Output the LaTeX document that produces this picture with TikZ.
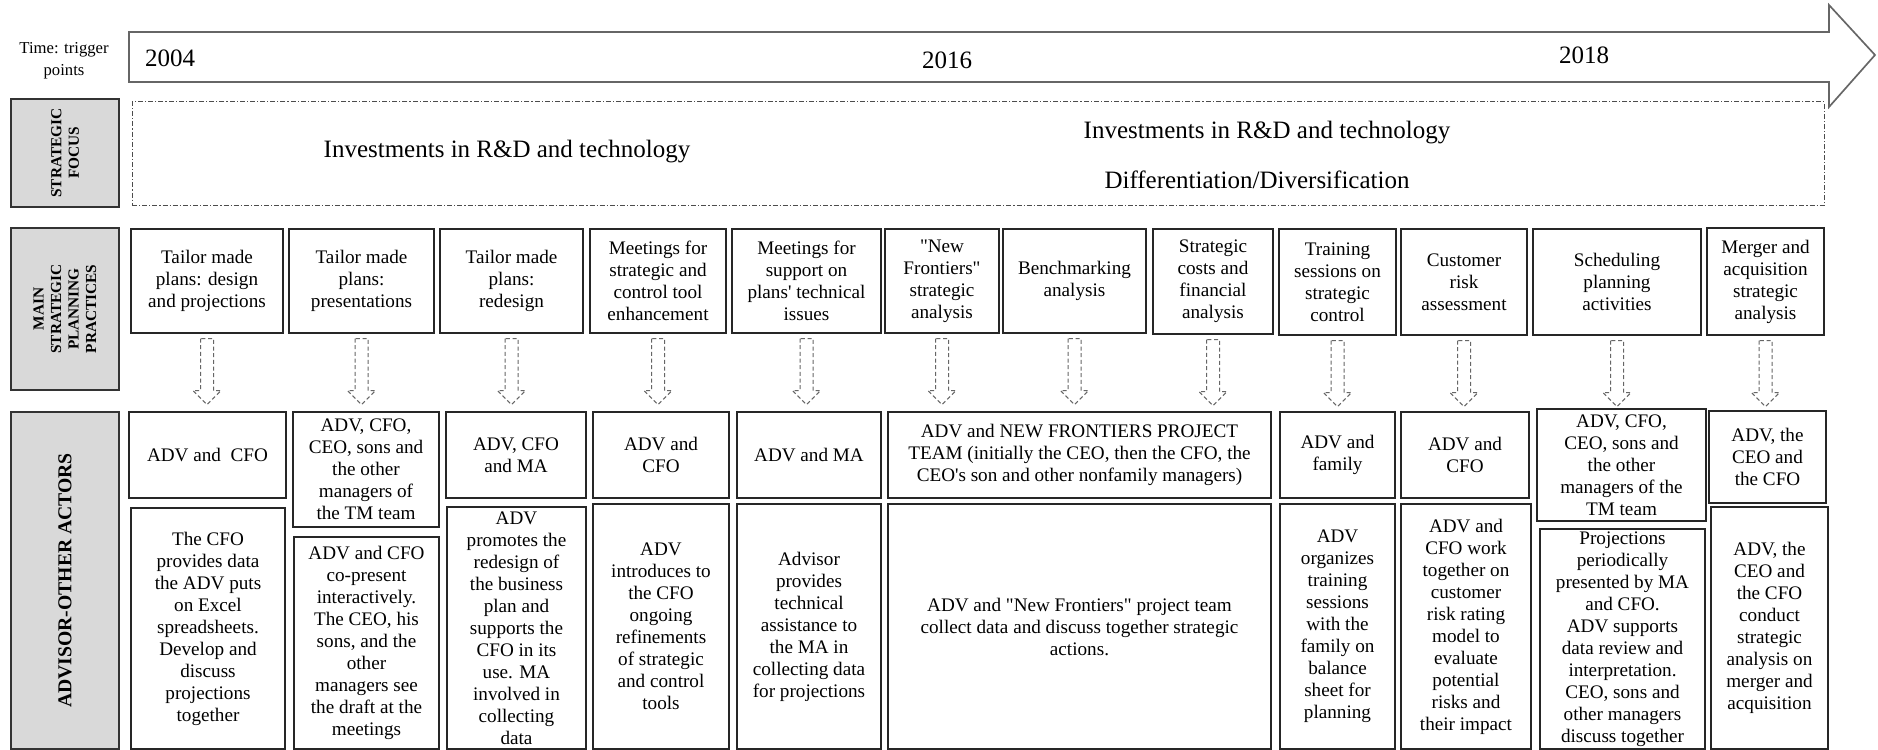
\documentclass[tikz,border=0pt]{standalone}
\usepackage{fontspec}
\setmainfont{Liberation Serif}

\begin{document}
\begin{tikzpicture}[x=0.6pt, y=-0.6pt,
  spanbox/.style n args={4}{at={({(#1+#3)/2},{(#2+#4)/2})},
    minimum width={(#3-#1)*0.6pt}, minimum height={(#4-#2)*0.6pt}},
  cell/.style={draw=black!85, line width=0.7pt, inner sep=0pt, align=center,
    font=\fontsize{11.5}{13.2}\selectfont},
  header/.style={draw=black!80, fill=black!15, line width=0.9pt, inner sep=0pt},
  headtext/.style={rotate=90, align=center, font=\bfseries\fontsize{9.2}{10.5}\selectfont},
  frame/.style={draw=black!70, line width=0.6pt, inner sep=0pt,
    dash pattern=on 3pt off 1.2pt on 0.7pt off 1.2pt},
  hollow/.style={draw=black!60, line width=0.6pt, dash pattern=on 2.4pt off 1.6pt, fill=white},
  bigtext/.style={font=\fontsize{15}{18}\selectfont}]

  \useasboundingbox (0,0) rectangle (1878,750);

  % Draw the time line arrow and its trigger points
  \draw[black!60, line width=1pt, fill=white] (129,32) -- (1829,32) -- (1829,5) -- (1875,55)
    -- (1829,107) -- (1829,82) -- (129,82) -- cycle;
  \node[align=center, font=\fontsize{10}{13.2}\selectfont] (trigger) at (64,61) {Time: trigger\\points};
  \node[bigtext] (y2004) at (170,58) {2004};
  \node[bigtext] (y2016) at (947,60) {2016};
  \node[bigtext] (y2018) at (1584,55) {2018};

  % Strategic focus row
  \node[header, spanbox={11}{99}{119}{207}] (hfocus) {};
  \node[headtext] (tfocus) at (hfocus.center) {STRATEGIC\\FOCUS};
  \node[frame, spanbox={132}{102}{1824}{206}] (focus) {};
  \node[bigtext] (f1) at (507,152) {Investments in R\&D and technology};
  \node[bigtext] (f2) at (1267,133) {Investments in R\&D and technology};
  \node[bigtext] (f3) at (1257,180) {Differentiation/Diversification};

  % Main strategic planning practices
  \node[header, spanbox={11}{228}{119}{390}] (hplan) {};
  \node[headtext] (tplan) at (hplan.center) {MAIN\\STRATEGIC\\PLANNING\\PRACTICES};
  \node[cell, spanbox={131}{229}{283}{333}] (p1) {Tailor made\\plans: design\\and projections};
  \node[cell, spanbox={289}{229}{434}{333}] (p2) {Tailor made\\plans:\\presentations};
  \node[cell, spanbox={440}{229}{583}{333}] (p3) {Tailor made\\plans:\\redesign};
  \node[cell, spanbox={590}{229}{726}{333}] (p4) {Meetings for\\strategic and\\control tool\\enhancement};
  \node[cell, spanbox={732}{229}{881}{333}] (p5) {Meetings for\\support on\\plans\textquotesingle{} technical\\issues};
  \node[cell, spanbox={885}{229}{999}{333}] (p6) {\textquotedbl New\\Frontiers\textquotedbl\\strategic\\analysis};
  \node[cell, spanbox={1003}{229}{1146}{333}] (p7) {Benchmarking\\analysis};
  \node[cell, spanbox={1153}{229}{1273}{334}] (p8) {Strategic\\costs and\\financial\\analysis};
  \node[cell, spanbox={1279}{229}{1396}{335}] (p9) {Training\\sessions on\\strategic\\control};
  \node[cell, spanbox={1401}{229}{1527}{335}] (p10) {Customer\\risk\\assessment};
  \node[cell, spanbox={1533}{229}{1701}{335}] (p11) {Scheduling\\planning\\activities};
  \node[cell, spanbox={1707}{228}{1824}{335}] (p12) {Merger and\\acquisition\\strategic\\analysis};

  % Hollow dashed arrows below each practice
  \foreach \i in {1,...,12}
    \draw[hollow] ([yshift=-3pt]p\i.south) ++(-6.5,0) -- ++(0,52) -- ++(-7.5,0) -- ++(14,14)
      -- ++(14,-14) -- ++(-7.5,0) -- ++(0,-52) -- cycle;

  % Advisor and other actors
  \node[header, spanbox={11}{412}{119}{749}] (hactor) {};
  \node[headtext, font=\bfseries\fontsize{11.8}{13}\selectfont] (tactor) at (hactor.center) {ADVISOR-OTHER ACTORS};
  \node[cell, spanbox={129}{412}{286}{498}] (ac1) {ADV and~ CFO};
  \node[cell, spanbox={293}{412}{439}{527}] (ac2) {ADV, CFO,\\CEO, sons and\\the other\\managers of\\the TM team};
  \node[cell, spanbox={446}{412}{586}{498}] (ac3) {ADV, CFO\\and MA};
  \node[cell, spanbox={593}{412}{729}{498}] (ac4) {ADV and\\CFO};
  \node[cell, spanbox={737}{412}{881}{498}] (ac5) {ADV and MA};
  \node[cell, spanbox={888}{412}{1271}{498}] (ac6) {ADV and NEW FRONTIERS PROJECT\\TEAM (initially the CEO, then the CFO, the\\CEO\textquotesingle s son and other nonfamily managers)};
  \node[cell, spanbox={1280}{412}{1395}{498}] (ac7) {ADV and\\family};
  \node[cell, spanbox={1401}{412}{1529}{498}] (ac8) {ADV and\\CFO};
  \node[cell, spanbox={1537}{409}{1706}{521}] (ac9) {ADV, CFO,\\CEO, sons and\\the other\\managers of the\\TM team};
  \node[cell, spanbox={1709}{411}{1826}{503}] (ac10) {ADV, the\\CEO and\\the CFO};

  % What each actor group does
  \node[cell, spanbox={131}{508}{285}{749}] (ds1) {The CFO\\provides data\\the ADV puts\\on Excel\\spreadsheets.\\Develop and\\discuss\\projections\\together};
  \node[cell, spanbox={294}{537}{439}{749}] (ds2) {ADV and CFO\\co-present\\interactively.\\The CEO, his\\sons, and the\\other\\managers see\\the draft at the\\meetings};
  \node[cell, spanbox={447}{507}{586}{749}] (ds3) {ADV\\promotes the\\redesign of\\the business\\plan and\\supports the\\CFO in its\\use. MA\\involved in\\collecting\\data};
  \node[cell, spanbox={593}{504}{729}{749}] (ds4) {ADV\\introduces to\\the CFO\\ongoing\\refinements\\of strategic\\and control\\tools};
  \node[cell, spanbox={737}{504}{881}{749}] (ds5) {Advisor\\provides\\technical\\assistance to\\the MA in\\collecting data\\for projections};
  \node[cell, spanbox={888}{504}{1271}{749}] (ds6) {ADV and \textquotedbl New Frontiers\textquotedbl{} project team\\collect data and discuss together strategic\\actions.};
  \node[cell, spanbox={1280}{504}{1395}{749}] (ds7) {ADV\\organizes\\training\\sessions\\with the\\family on\\balance\\sheet for\\planning};
  \node[cell, spanbox={1401}{504}{1531}{749}] (ds8) {ADV and\\CFO work\\together on\\customer\\risk rating\\model to\\evaluate\\potential\\risks and\\their impact};
  \node[cell, spanbox={1540}{529}{1705}{749}] (ds9) {Projections\\periodically\\presented by MA\\and CFO.\\ADV supports\\data review and\\interpretation.\\CEO, sons and\\other managers\\discuss together};
  \node[cell, spanbox={1711}{507}{1828}{749}] (ds10) {ADV, the\\CEO and\\the CFO\\conduct\\strategic\\analysis on\\merger and\\acquisition};
\end{tikzpicture}
\end{document}
